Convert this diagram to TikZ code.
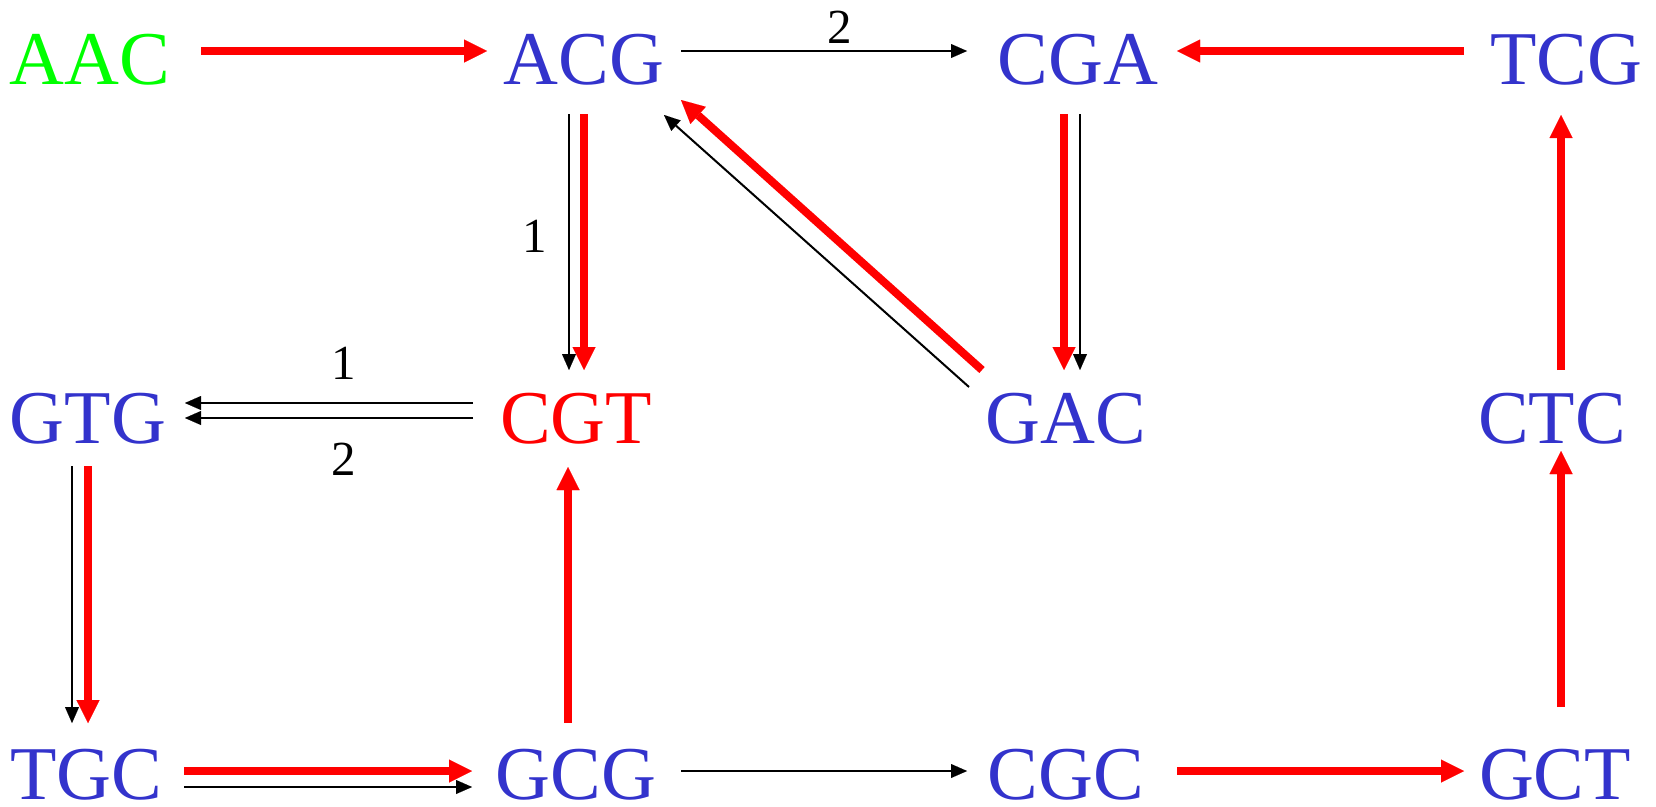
\documentclass[tikz,border=0pt]{standalone}
\usepackage{fontspec}
\setmainfont{Liberation Serif}
\usetikzlibrary{arrows.meta,calc}
\definecolor{seqblue}{RGB}{51,51,204}
\definecolor{seqgreen}{RGB}{0,255,0}
\definecolor{seqred}{RGB}{255,0,0}
\tikzset{
  seq/.style={font=\fontsize{76}{76}\selectfont, inner sep=0pt, anchor=base, text=seqblue},
  num/.style={font=\fontsize{49}{49}\selectfont, inner sep=0pt, text=black},
  R/.style={draw=seqred, line width=8pt, -{Triangle[length=23pt,width=23pt,line width=0.01pt]}},
  K/.style={draw=black, line width=2pt, -{Triangle[length=16pt,width=14pt,line width=0.01pt]}}
}
\begin{document}
\begin{tikzpicture}[x=1pt,y=-1pt]
\useasboundingbox (0,0) rectangle (1656,806);
% nodes
\node[seq,text=seqgreen] (aac) at (90,84) {AAC};
\node[seq] (acg) at (584,84) {ACG};
\node[seq] (cga) at (1078,84) {CGA};
\node[seq] (tcg) at (1566,84) {TCG};
\node[seq] (gtg) at (88,443) {GTG};
\node[seq,text=seqred] (cgt) at (576,443) {CGT};
\node[seq] (gac) at (1066,443) {GAC};
\node[seq] (ctc) at (1552,443) {CTC};
\node[seq] (tgc) at (86,799) {TGC};
\node[seq] (gcg) at (576,799) {GCG};
\node[seq] (cgc) at (1066,799) {CGC};
\node[seq] (gct) at (1555,799) {GCT};
% top row
\draw[R] ($(aac.base)+(111,-33)$) -- ($(acg.base)+(-97,-33)$);
\draw[K] ($(acg.base)+(97,-33)$) -- ($(cga.base)+(-111,-33)$);
\node[num] (l2a) at (840,27) {2};
\draw[R] ($(tcg.base)+(-102,-33)$) -- ($(cga.base)+(99,-33)$);
% ACG -> CGT
\draw[K] ($(acg.base)+(-15,30)$) -- ($(cgt.base)+(-7,-73)$);
\draw[R] ($(acg.base)+(0,30)$) -- ($(cgt.base)+(8,-73)$);
\node[num] (l1a) at (535,236) {1};
% GAC -> ACG
\draw[R] ($(gac.base)+(-84,-73)$) -- ($(acg.base)+(97,16)$);
\draw[K] ($(gac.base)+(-97,-56)$) -- ($(acg.base)+(80,31)$);
% CGA -> GAC
\draw[R] ($(cga.base)+(-14,30)$) -- ($(gac.base)+(-2,-73)$);
\draw[K] ($(cga.base)+(2,30)$) -- ($(gac.base)+(14,-73)$);
% CTC -> TCG
\draw[R] ($(ctc.base)+(9,-73)$) -- ($(tcg.base)+(-5,31)$);
% CGT -> GTG
\draw[K] ($(cgt.base)+(-103,-40)$) -- ($(gtg.base)+(97,-40)$);
\draw[K] ($(cgt.base)+(-103,-25)$) -- ($(gtg.base)+(97,-25)$);
\node[num] (l1b) at (344,363) {1};
\node[num] (l2b) at (344,459) {2};
% GTG -> TGC
\draw[K] ($(gtg.base)+(-16,23)$) -- ($(tgc.base)+(-14,-76)$);
\draw[R] ($(gtg.base)+(0,23)$) -- ($(tgc.base)+(2,-76)$);
% GCG -> CGT
\draw[R] ($(gcg.base)+(-8,-76)$) -- ($(cgt.base)+(-8,24)$);
% bottom row
\draw[R] ($(tgc.base)+(98,-28)$) -- ($(gcg.base)+(-104,-28)$);
\draw[K] ($(tgc.base)+(98,-12)$) -- ($(gcg.base)+(-104,-12)$);
\draw[K] ($(gcg.base)+(105,-28)$) -- ($(cgc.base)+(-99,-28)$);
\draw[R] ($(cgc.base)+(111,-28)$) -- ($(gct.base)+(-91,-28)$);
% GCT -> CTC
\draw[R] ($(gct.base)+(6,-92)$) -- ($(ctc.base)+(9,8)$);
\end{tikzpicture}
\end{document}
